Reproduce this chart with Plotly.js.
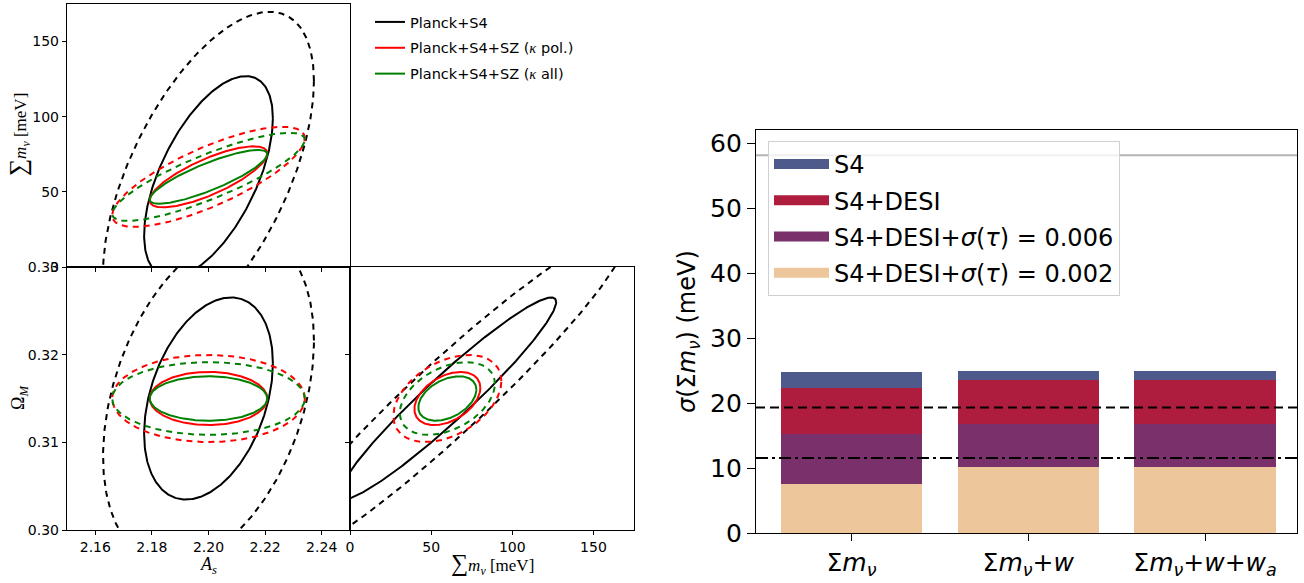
<!DOCTYPE html>
<html><head><meta charset="utf-8">
<script src="https://cdn.plot.ly/plotly-3.0.1.min.js"></script>
<style>html,body{margin:0;padding:0;background:#fff}#chart{width:1304px;height:583px}</style>
</head><body><div id="chart"></div>
<script>
// ---------- Triangle plot (Fisher contours) ----------
const fiducialAs = 2.20;
const fiducialMnu = 60;      // meV
const fiducialOm = 0.315;
const experiments = ['Planck+S4', 'Planck+S4+SZ (<span style="font-family:Liberation Serif"><i>κ</i></span> pol.)', 'Planck+S4+SZ (<span style="font-family:Liberation Serif"><i>κ</i></span> all)'];
const expColors = ['#000000', '#ff0000', '#008000'];
const sigmaAs  = [0.0150, 0.0137, 0.0137];
const sigmaMnu = [44.2, 13.4, 11.8];
const sigmaOm  = [0.0076, 0.0020, 0.00167];
const rhoAsMnu = [0.58, 0.77, 0.84];
const rhoAsOm  = [0.35, 0.0, 0.0];
const rhoMnuOm = [0.955, 0.40, 0.40];
const contourDeltaChi2 = [2.30, 6.17];   // 68% (solid), 95% (dashed)
const contourDash = ['solid', '6px,5px'];

// ---------- Bar chart ----------
const models = ['Σ<i>m</i><sub><i>ν</i></sub>', 'Σ<i>m</i><sub><i>ν</i></sub>+<i>w</i>', 'Σ<i>m</i><sub><i>ν</i></sub>+<i>w</i>+<i>w</i><sub><i>a</i></sub>'];
const seriesNames = ['S4', 'S4+DESI', 'S4+DESI+<i>σ</i>(<i>τ</i>) = 0.006', 'S4+DESI+<i>σ</i>(<i>τ</i>) = 0.002'];
const seriesColors = ['#4e598c', '#ae1c3e', '#7a306b', '#eec69b'];
const sigmaS4       = [24.8, 24.9, 25.0];
const sigmaS4DESI   = [22.3, 23.5, 23.5];
const sigmaTau006   = [15.3, 16.7, 16.7];
const sigmaTau002   = [7.5, 10.1, 10.1];
const minMassLine = 58.1;   // gray
const dashedLine = 19.3;
const dashDotLine = 11.55;

function ellipse(mx, my, sx, sy, rho, dchi2) {
  const k = Math.sqrt(dchi2), n = 361, xs = [], ys = [];
  const c = Math.sqrt(1 - rho * rho);
  for (let i = 0; i < n; i++) {
    const t = 2 * Math.PI * i / (n - 1);
    xs.push(mx + k * sx * Math.cos(t));
    ys.push(my + k * sy * (rho * Math.cos(t) + c * Math.sin(t)));
  }
  return [xs, ys];
}

const traces = [];
const panels = [
  {xa: 'x',  ya: 'y',  mx: fiducialAs,  my: fiducialMnu, sx: sigmaAs,  sy: sigmaMnu, rho: rhoAsMnu},
  {xa: 'x2', ya: 'y2', mx: fiducialAs,  my: fiducialOm,  sx: sigmaAs,  sy: sigmaOm,  rho: rhoAsOm},
  {xa: 'x3', ya: 'y3', mx: fiducialMnu, my: fiducialOm,  sx: sigmaMnu, sy: sigmaOm,  rho: rhoMnuOm}
];
for (let e = 0; e < experiments.length; e++) {
  panels.forEach((p, pi) => {
    contourDeltaChi2.forEach((d, li) => {
      const [xs, ys] = ellipse(p.mx, p.my, p.sx[e], p.sy[e], p.rho[e], d);
      traces.push({
        type: 'scatter', mode: 'lines', x: xs, y: ys, xaxis: p.xa, yaxis: p.ya,
        line: {color: expColors[e], width: 2, dash: contourDash[li]},
        name: experiments[e], legendgroup: 'e' + e, legend: 'legend',
        showlegend: (pi === 0 && li === 0), hoverinfo: 'skip'
      });
    });
  });
}

// bars (overlaid, tallest first)
const barSeries = [sigmaS4, sigmaS4DESI, sigmaTau006, sigmaTau002];
const catIdx = [0, 1, 2];
barSeries.forEach((vals, i) => {
  traces.push({
    type: 'bar', x: catIdx, y: vals, width: 0.8, xaxis: 'x4', yaxis: 'y4',
    marker: {color: seriesColors[i], line: {width: 0}}, name: seriesNames[i], showlegend: false, hoverinfo: 'skip'
  });
});
// legend proxies for bars
barSeries.forEach((vals, i) => {
  traces.push({
    type: 'scatter', mode: 'lines', x: [null], y: [null], xaxis: 'x4', yaxis: 'y4',
    line: {color: seriesColors[i], width: 17}, name: seriesNames[i],
    legend: 'legend2', legendgroup: 'b' + i, showlegend: true, hoverinfo: 'skip'
  });
});

const W = 1304, H = 583;
const px = v => v / W, py = v => 1 - v / H;
const tickFont = {family: 'DejaVu Sans', size: 14, color: '#000'};
const baseAx = {showgrid: false, zeroline: false, showline: true, linecolor: '#000', linewidth: 1.2,
  mirror: true, ticks: 'outside', ticklen: 4, tickwidth: 1, tickcolor: '#000', tickfont: tickFont};

const serif = 'Liberation Serif, DejaVu Serif, serif';
const ann = (x, y, text, size, family, angle) => ({xref: 'paper', yref: 'paper', x: px(x), y: py(y),
  xanchor: 'center', yanchor: 'middle', textangle: angle || 0, showarrow: false, text: text,
  font: {family: family, size: size, color: '#000'}});

const layout = {
  width: W, height: H, margin: {l: 0, r: 0, t: 0, b: 0},
  paper_bgcolor: '#fff', plot_bgcolor: '#fff',
  font: {family: 'DejaVu Sans', color: '#000'},
  barmode: 'overlay', bargap: 0,
  showlegend: true,
  xaxis:  Object.assign({}, baseAx, {domain: [px(67), px(350)], range: [2.15, 2.25], tick0: 2.16, dtick: 0.02, showticklabels: false, anchor: 'y'}),
  yaxis:  Object.assign({}, baseAx, {domain: [py(267), py(4)], range: [0, 175], tick0: 0, dtick: 50, anchor: 'x'}),
  xaxis2: Object.assign({}, baseAx, {domain: [px(67), px(350)], range: [2.15, 2.25], tick0: 2.16, dtick: 0.02, tickformat: '.2f', anchor: 'y2'}),
  yaxis2: Object.assign({}, baseAx, {domain: [py(530), py(267)], range: [0.30, 0.3300001], tick0: 0.30, dtick: 0.01, tickformat: '.2f', anchor: 'x2'}),
  xaxis3: Object.assign({}, baseAx, {domain: [px(350), px(634)], range: [0, 175], tick0: 0, dtick: 50, anchor: 'y3'}),
  yaxis3: Object.assign({}, baseAx, {domain: [py(530), py(267)], range: [0.30, 0.33], tick0: 0.30, dtick: 0.01, showticklabels: false, anchor: 'x3'}),
  xaxis4: Object.assign({}, baseAx, {domain: [px(756), px(1297)], range: [-0.54, 2.52], tickvals: catIdx, ticktext: models,
    ticklen: 7, tickfont: {family: 'DejaVu Sans', size: 25, color: '#000'}, anchor: 'y4'}),
  yaxis4: Object.assign({}, baseAx, {domain: [py(533), py(130)], range: [0, 62], tick0: 0, dtick: 10, ticklen: 8,
    tickfont: {family: 'DejaVu Sans', size: 25, color: '#000'}, anchor: 'x4'}),
  legend: {x: px(370), y: py(6), xanchor: 'left', yanchor: 'top', bgcolor: 'rgba(0,0,0,0)', borderwidth: 0,
    font: {family: 'DejaVu Sans', size: 14.5, color: '#000'}, tracegroupgap: 4, traceorder: 'grouped'},
  legend2: {x: px(768), y: py(141), xanchor: 'left', yanchor: 'top', bgcolor: 'rgba(255,255,255,0.8)',
    bordercolor: '#d0d0d0', borderwidth: 1, font: {family: 'DejaVu Sans', size: 24, color: '#000'},
    itemwidth: 55, tracegroupgap: 2, traceorder: 'grouped'},
  shapes: [
    {type: 'line', xref: 'x4 domain', x0: 0, x1: 1, yref: 'y4', y0: minMassLine, y1: minMassLine, line: {color: '#b5b5b5', width: 2}, layer: 'below'},
    {type: 'line', xref: 'x4 domain', x0: 0, x1: 1, yref: 'y4', y0: dashedLine, y1: dashedLine, line: {color: '#000', width: 2, dash: '9px,5px'}},
    {type: 'line', xref: 'x4 domain', x0: 0, x1: 1, yref: 'y4', y0: dashDotLine, y1: dashDotLine, line: {color: '#000', width: 2, dash: '12px,4px,3px,4px'}}
  ],
  annotations: [
    ann(19, 135, '<span style="font-size:24px">∑</span><i>m</i><sub><i>ν</i></sub> [meV]', 17, serif, -90),
    ann(19, 398, 'Ω<sub><i>M</i></sub>', 18, serif, -90),
    ann(208, 565, '<i>A</i><sub><i>s</i></sub>', 18, serif, 0),
    ann(492, 564, '<span style="font-size:24px">∑</span><i>m</i><sub><i>ν</i></sub> [meV]', 17, serif, 0),
    ann(688, 331, '<i>σ</i>(Σ<i>m</i><sub><i>ν</i></sub>) (meV)', 24, 'DejaVu Sans', -90)
  ]
};

Plotly.newPlot('chart', traces, layout, {staticPlot: true, displayModeBar: false});
</script>
</body></html>
